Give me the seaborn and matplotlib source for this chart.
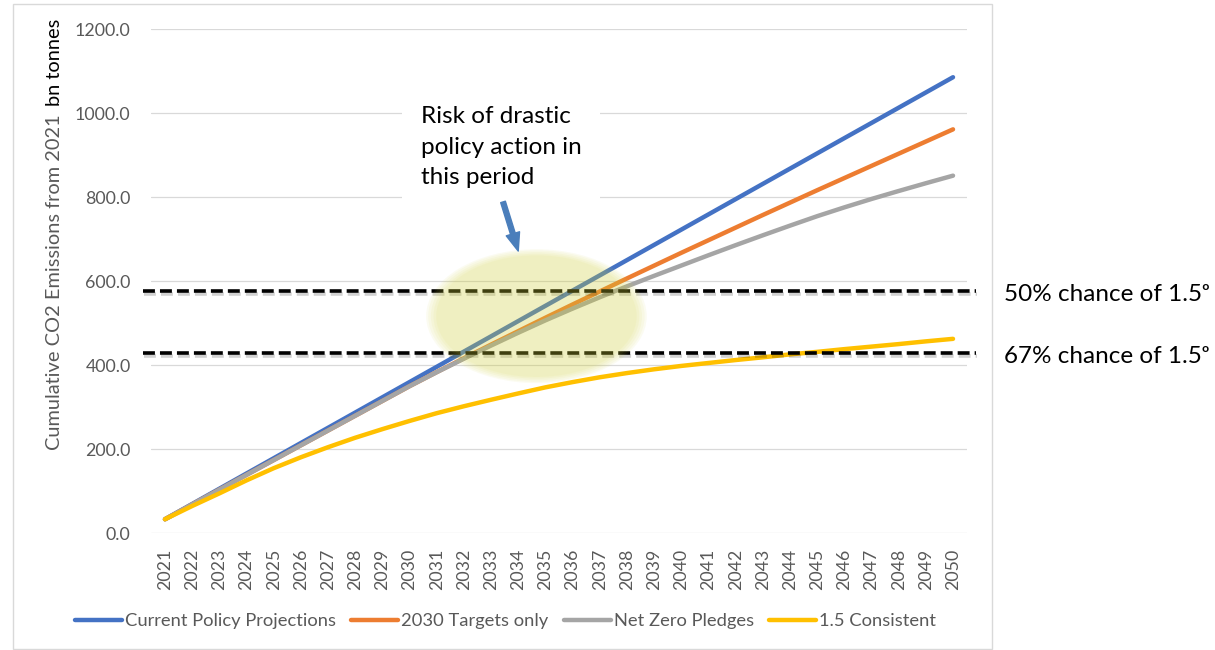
import matplotlib
matplotlib.use("Agg")
import matplotlib.pyplot as plt
import matplotlib.patheffects as pe
from matplotlib.patches import Ellipse, Rectangle
import seaborn as sns
import pandas as pd
import numpy as np

# ---------------- data ----------------
years = list(range(2021, 2051))
current_policy = [33.5, 69.8, 106.1, 142.4, 178.7, 215.0, 251.2, 287.5, 323.8, 360.1,
                  396.4, 432.7, 469.0, 505.3, 541.6, 577.9, 614.1, 650.4, 686.7, 723.0,
                  759.3, 795.6, 831.9, 868.2, 904.5, 940.8, 977.0, 1013.3, 1049.6, 1085.9]
targets_2030 = [33.5, 68.7, 103.9, 139.1, 174.3, 209.5, 244.7, 279.9, 315.1, 350.3,
                383.8, 416.8, 449.3, 481.3, 513.3, 544.8, 575.8, 606.8, 637.3, 667.8,
                697.8, 727.8, 757.8, 787.3, 816.8, 845.8, 874.8, 903.8, 932.8, 961.8]
net_zero = [33.5, 68.7, 103.9, 139.1, 174.3, 209.5, 244.7, 279.9, 315.1, 350.3,
            383.5, 415.7, 447.0, 477.5, 507.0, 535.0, 562.0, 588.0, 613.0, 637.5,
            662.0, 686.0, 709.5, 732.5, 755.0, 776.0, 796.0, 815.0, 833.5, 851.5]
consistent_15 = [33.5, 65.0, 95.0, 126.0, 155.0, 181.0, 205.0, 227.5, 248.0, 267.5,
                 286.0, 302.5, 318.0, 333.0, 347.5, 360.0, 371.5, 381.5, 390.5, 398.5,
                 405.5, 412.5, 419.0, 426.0, 432.0, 438.5, 444.5, 450.5, 457.0, 463.0]
series_names = ["Current Policy Projections", "2030 Targets only",
                "Net Zero Pledges", "1.5 Consistent"]
series_colors = ["#4472C4", "#ED7D31", "#A5A5A5", "#FFC000"]
threshold_values = [577.5, 428.5]
threshold_labels = ["50% chance of 1.5ᵒ", "67% chance of 1.5ᵒ"]
y_ticks = [0, 200, 400, 600, 800, 1000, 1200]
annotation_text = "Risk of drastic\npolicy action in\nthis period"
y_label_main = "Cumulative CO2 Emissions from 2021"
y_label_unit = "bn tonnes"

df = pd.DataFrame({
    "Year": years * 4,
    "Value": current_policy + targets_2030 + net_zero + consistent_15,
    "Series": np.repeat(series_names, len(years)),
})

# ---------------- style ----------------
sns.set_theme(style="white")
plt.rcParams["font.family"] = ["Lato", "DejaVu Sans"]

W, H = 1215, 650
fig = plt.figure(figsize=(W / 100, H / 100), dpi=100)


def fx(px):
    return px / W


def fy(py):
    return 1 - py / H


ax_l, ax_r, ax_t, ax_b = 151.4, 966.6, 29.3, 533.3
ax = fig.add_axes([fx(ax_l), fy(ax_b), (ax_r - ax_l) / W, (ax_b - ax_t) / H])

sns.lineplot(data=df, x="Year", y="Value", hue="Series", hue_order=series_names,
             palette=series_colors, linewidth=3.2, ax=ax, legend=True,
             solid_capstyle="round", zorder=2)

ax.set_xlim(2020.5, 2050.5)
ax.set_ylim(0, 1200)
ax.set_xticks(years)
ax.set_xticklabels([str(y) for y in years], rotation=90)
ax.set_yticks(y_ticks)
ax.set_yticklabels([f"{v:.1f}" for v in y_ticks])
ax.tick_params(axis="both", length=0, labelsize=12.8, labelcolor="#595959")
ax.tick_params(axis="x", pad=11)
ax.tick_params(axis="y", pad=15)
ax.grid(axis="y", color="#D9D9D9", lw=0.9)
ax.grid(axis="x", visible=False)
ax.set_axisbelow(True)
for s in ax.spines.values():
    s.set_visible(False)
ax.set_xlabel("")
ax.set_ylabel("")

# threshold dashed lines
for v in threshold_values:
    ax.axhline(v, xmin=(143 - ax_l) / (ax_r - ax_l), xmax=(976 - ax_l) / (ax_r - ax_l),
               color="black", lw=2.6, dashes=(3.3, 1.4), clip_on=False, zorder=3,
               path_effects=[pe.SimpleLineShadow(offset=(0.5, -2.2), shadow_color="black",
                                                 alpha=0.18), pe.Normal()])

# highlighted ellipse (soft edge)
ell_center = (2034.67, 517)
ell_w, ell_h = 7.77, 305
for s in [1.045, 1.025, 1.0, 0.975, 0.95]:
    ax.add_patch(Ellipse(ell_center, ell_w * s, ell_h * s, fc="#D4D43A", ec="none",
                         alpha=0.07, zorder=5))

# arrow
ax.annotate("", xy=(2034.0, 672), xytext=(2033.44, 789),
            arrowprops=dict(arrowstyle="simple,head_length=1.3,head_width=1.0,tail_width=0.35",
                            color="#4A7EBB", shrinkA=0, shrinkB=0, mutation_scale=10),
            annotation_clip=False, zorder=6)

# annotation text (anchor = baseline of last line)
ax.text(2030.41, 832, annotation_text, fontsize=17.5, color="black", va="baseline",
        ha="left", linespacing=1.55, zorder=4,
        bbox=dict(boxstyle="square,pad=0.75", fc="white", ec="none"))

# right labels
for lab, py in zip(threshold_labels, [300.7, 363.3]):
    fig.text(fx(1004), fy(py), lab, fontsize=17.5, va="baseline", ha="left", color="black",
             family=["Lato", "DejaVu Sans"])

# legend
leg = ax.get_legend()
handles = leg.legend_handles
labels = [t.get_text() for t in leg.get_texts()]
leg.remove()
flegend = fig.legend(handles, labels, ncol=4, loc="center",
                     bbox_to_anchor=(fx(505.5), fy(621)), frameon=False, fontsize=13.2,
                     handlelength=2.56, handletextpad=0.15, columnspacing=0.85,
                     labelcolor="#595959")
for h in flegend.legend_handles:
    h.set_linewidth(3.2)
    h.set_solid_capstyle("round")

# y label (two colours)
t1 = fig.text(fx(55), fy(450), y_label_main, rotation=90, rotation_mode="anchor",
              ha="left", va="center", fontsize=14.4, color="#595959")
fig.canvas.draw()
bb = t1.get_window_extent()
fig.text(fx(55), (bb.y1 + 8) / H, y_label_unit, rotation=90, rotation_mode="anchor",
         ha="left", va="center", fontsize=14.4, color="black")

# outer border
fig.add_artist(Rectangle((fx(13.3), fy(649)), fx(991.7) - fx(13.3), (649 - 4.3) / H,
                         transform=fig.transFigure, fill=False, ec="#D9D9D9", lw=1))

fig.savefig("out.png", dpi=100)
